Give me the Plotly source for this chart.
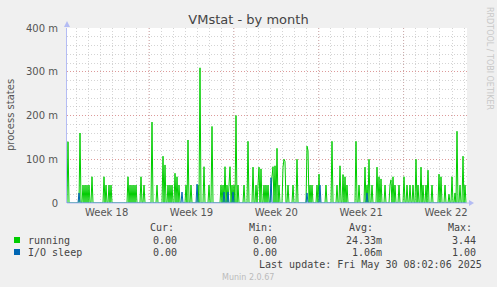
import plotly.graph_objects as go
import pandas as pd
import numpy as np

# ---------------- data ----------------
title_text = "VMstat - by month"
y_title = "process states"
week_labels = ["Week 18", "Week 19", "Week 20", "Week 21", "Week 22"]
week_starts = ["2025-04-27", "2025-05-04", "2025-05-11", "2025-05-18", "2025-05-25"]
y_tick_vals = [0, 0.1, 0.2, 0.3, 0.4]
y_tick_text = ["0", "100 m", "200 m", "300 m", "400 m"]

graph_start = "2025-04-27 05:30"
graph_days = 33
n_slots = 400

# two-hour-ish slots (index since graph start) where the series is non-zero; values in processes
running_slots = [1, 13, 16, 18, 20, 22, 25, 37, 39, 42, 44, 61, 63, 65, 67, 69, 74, 77,
                 85, 90, 96, 98, 101, 103, 105, 108, 110, 112, 119, 121, 124, 131, 133,
                 137, 142, 145, 154, 156, 158, 160, 162, 163, 165, 167, 169, 171, 177,
                 181, 186, 189, 191, 192, 194, 197, 199, 201, 204, 205, 206, 208, 210,
                 212, 216, 217, 218, 221, 226, 230, 240, 241, 243, 245, 250, 252, 259,
                 265, 270, 273, 276, 278, 280, 289, 292, 298, 300, 302, 305, 310, 312,
                 314, 318, 323, 324, 326, 328, 332, 337, 340, 343, 346, 349, 351, 354,
                 356, 359, 361, 365, 372, 374, 378, 382, 385, 388, 390, 393, 396, 398]
running_vals = [0.140, 0.160, 0.041, 0.041, 0.041, 0.041, 0.060, 0.060, 0.041, 0.041, 0.041,
                0.060, 0.041, 0.041, 0.041, 0.041, 0.060, 0.041, 0.185, 0.041, 0.107,
                0.087, 0.041, 0.041, 0.041, 0.068, 0.060, 0.041, 0.041, 0.144, 0.041,
                0.041, 0.309, 0.083, 0.041, 0.175, 0.041, 0.041, 0.083, 0.041, 0.041,
                0.083, 0.041, 0.041, 0.200, 0.041, 0.041, 0.141, 0.082, 0.041, 0.060,
                0.082, 0.078, 0.041, 0.041, 0.041, 0.041, 0.060, 0.083, 0.085, 0.125,
                0.041, 0.082, 0.100, 0.095, 0.041, 0.041, 0.100, 0.130, 0.120, 0.041,
                0.041, 0.041, 0.066, 0.041, 0.141, 0.041, 0.085, 0.065, 0.060, 0.041,
                0.141, 0.041, 0.082, 0.041, 0.100, 0.041, 0.082, 0.060, 0.055, 0.041,
                0.041, 0.053, 0.060, 0.041, 0.041, 0.060, 0.041, 0.041, 0.041, 0.100,
                0.041, 0.082, 0.041, 0.041, 0.075, 0.041, 0.066, 0.060, 0.041, 0.020,
                0.060, 0.023, 0.164, 0.041, 0.107, 0.041]
iosleep_slots = [12, 115, 130, 157, 161, 166, 204, 240, 253, 300]
iosleep_vals = [0.023, 0.025, 0.043, 0.025, 0.025, 0.025, 0.058, 0.023, 0.041, 0.023]

legend_names = ["running", "I/O sleep"]
legend_colors = ["#00CC00", "#0066B3"]
legend_cur = ["0.00", "0.00"]
legend_min = ["0.00", "0.00"]
legend_avg = ["24.33m", "1.06m"]
legend_max = ["3.44", "1.00"]
last_update = "Last update: Fri May 30 08:02:06 2025"
footer = "Munin 2.0.67"
watermark = "RRDTOOL / TOBI OETIKER"

# ---------------- build series ----------------
t0 = pd.Timestamp(graph_start)
step = pd.Timedelta(days=graph_days) / n_slots
x = [t0 + step * i for i in range(n_slots)]
running = np.zeros(n_slots)
running[running_slots] = running_vals
iosleep = np.zeros(n_slots)
iosleep[iosleep_slots] = iosleep_vals
t_end = t0 + pd.Timedelta(days=graph_days)

# ---------------- layout helpers ----------------
W, H = 497, 287
L, R, T, B = 67, 30, 28, 84
PW, PH = W - L - R, H - T - B


def px(xp):
    return (xp - L) / PW


def py(yp):
    return (H - B - yp) / PH


fig = go.Figure()
fig.add_trace(go.Scatter(x=x, y=running, mode="lines", line=dict(color=legend_colors[0], width=1),
                         hoverinfo="skip", showlegend=False))
fig.add_trace(go.Scatter(x=x, y=iosleep, mode="lines", line=dict(color=legend_colors[1], width=1),
                         hoverinfo="skip", showlegend=False))

major_grid = "rgba(225,130,130,0.7)"
minor_grid = "rgba(170,170,170,0.5)"
axis_col = "#b4bcf4"
txt = "#555555"

week_mid = [pd.Timestamp(w) + pd.Timedelta(hours=84) for w in week_starts]

fig.update_layout(
    width=W, height=H,
    margin=dict(l=L, r=R, t=T, b=B, pad=0),
    paper_bgcolor="#F0F0F0", plot_bgcolor="#FFFFFF",
    font=dict(family="DejaVu Sans", size=10, color=txt),
    title=dict(text=title_text, x=0.5, xref="container", xanchor="center",
               y=1 - 19 / H, yref="container", yanchor="middle",
               font=dict(family="DejaVu Sans", size=13, color="#444444")),
    showlegend=False,
    xaxis=dict(type="date", range=[t0, t_end], tickmode="array", tickvals=week_mid,
               ticktext=week_labels, ticks="", showgrid=False, zeroline=False,
               showline=False, tickfont=dict(size=10, color=txt), ticklabelstandoff=2,
               minor=dict(tickmode="linear", tick0="2025-04-27", dtick=86400000,
                          showgrid=True, gridcolor=minor_grid, griddash="1px,2px",
                          gridwidth=1, ticks="")),
    yaxis=dict(range=[0, 0.4], tickmode="array", tickvals=y_tick_vals, ticktext=y_tick_text,
               ticks="", showgrid=True, gridcolor=major_grid, griddash="1px,2px", gridwidth=1,
               zeroline=False, showline=True, linecolor=axis_col, linewidth=1,
               tickfont=dict(size=10, color=txt), ticklabelstandoff=6,
               minor=dict(tickmode="linear", tick0=0, dtick=0.02, showgrid=True,
                          gridcolor=minor_grid, griddash="1px,2px", gridwidth=1, ticks="")),
)

shapes = []
for w in week_starts:
    tw = pd.Timestamp(w)
    if t0 < tw < t_end:
        shapes.append(dict(type="line", xref="x", yref="paper", x0=tw, x1=tw, y0=0, y1=1,
                           line=dict(color=major_grid, width=1, dash="1px,2px"), layer="below"))
# x axis line along zero, and arrows
shapes.append(dict(type="line", xref="paper", yref="paper", x0=0, x1=px(469), y0=0, y1=0,
                   line=dict(color=axis_col, width=1)))
shapes.append(dict(type="path", xref="paper", yref="paper",
                   path=f"M {px(469)},{py(200)} L {px(474)},{py(203)} L {px(469)},{py(206)} Z",
                   fillcolor=axis_col, line=dict(width=0)))
shapes.append(dict(type="path", xref="paper", yref="paper",
                   path=f"M {px(64)},{py(27)} L {px(67)},{py(21)} L {px(70)},{py(27)} Z",
                   fillcolor=axis_col, line=dict(width=0)))
# legend swatches
for i, c in enumerate(legend_colors):
    yc = 240 + 12 * i
    shapes.append(dict(type="rect", xref="paper", yref="paper", x0=px(14), x1=px(20),
                       y0=py(yc + 3), y1=py(yc - 3), fillcolor=c, line=dict(width=0)))
fig.update_layout(shapes=shapes)

ann = []
mono = dict(family="DejaVu Sans Mono", size=10, color="#444444")


def add_text(text, xp, yp, anchor="left", font=mono, angle=0):
    ann.append(dict(text=text, xref="paper", yref="paper", x=px(xp), y=py(yp), xanchor=anchor,
                    yanchor="middle", showarrow=False, font=font, textangle=angle, borderpad=0))


add_text(y_title, 10, 115, anchor="center", font=dict(family="DejaVu Sans", size=10, color=txt),
         angle=-90)
add_text(watermark, 489, 58, anchor="center", font=dict(family="DejaVu Sans", size=8, color="#c8c8c8"),
         angle=90)
for label, xr in zip(["Cur:", "Min:", "Avg:", "Max:"], [149, 248, 348, 447]):
    add_text(label, xr, 227)
for i in range(2):
    yr = 240 + 12 * i
    add_text(legend_names[i], 27, yr)
    add_text(legend_cur[i], 178, yr, anchor="right")
    add_text(legend_min[i], 278, yr, anchor="right")
    add_text(legend_avg[i], 383, yr, anchor="right")
    add_text(legend_max[i], 477, yr, anchor="right")
add_text(last_update, 483, 264, anchor="right")
add_text(footer, 248, 277, anchor="center", font=dict(family="DejaVu Sans", size=8, color="#bbbbbb"))
fig.update_layout(annotations=ann)

fig.write_html("out.html")
